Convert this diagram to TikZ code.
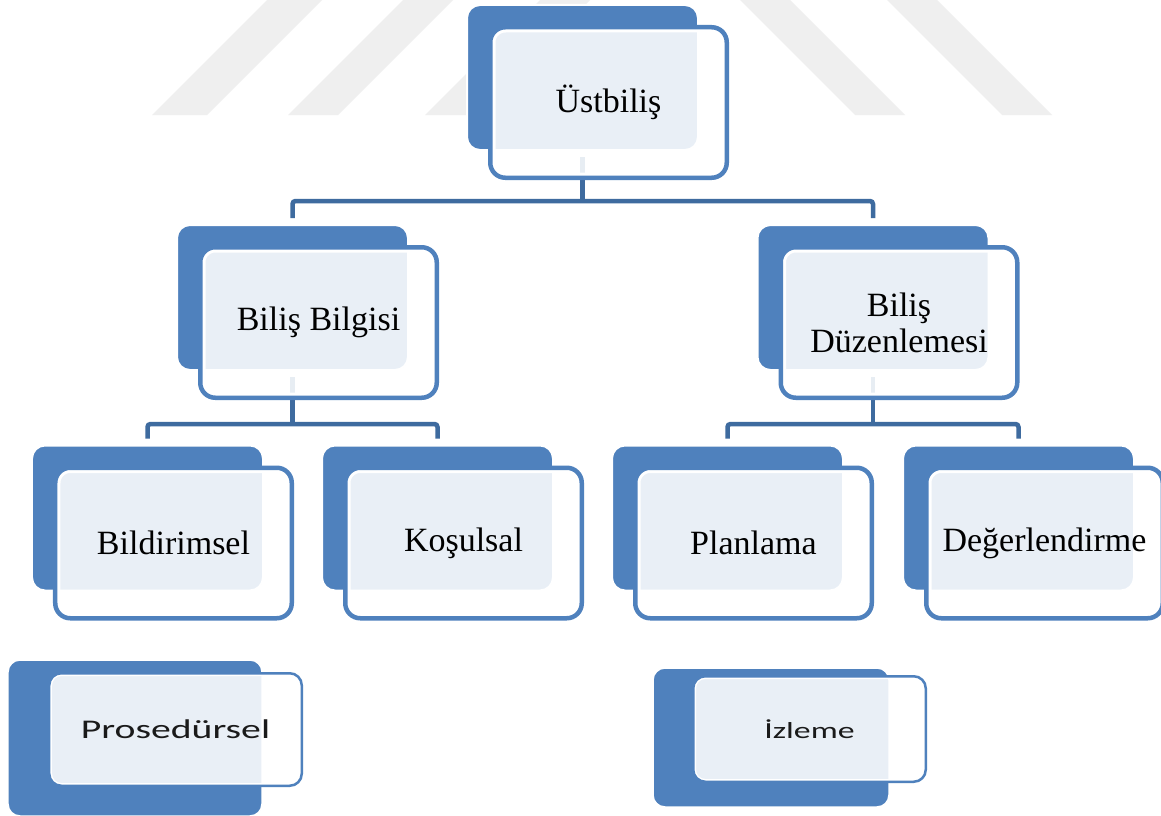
\documentclass[tikz,border=0pt]{standalone}
\usepackage{fontspec}
\setmainfont{Liberation Serif}
\newfontfamily\calib{Carlito}
\usetikzlibrary{calc}

\definecolor{boxblue}{HTML}{4F81BD}
\definecolor{linkblue}{HTML}{3E6B9F}
\definecolor{stripe}{HTML}{EFEFEF}
\definecolor{labelgray}{HTML}{1A1A1A}

\tikzset{
  backbox/.style={rectangle, rounded corners=13bp, fill=boxblue, draw=white,
    line width=2bp, inner sep=0pt, minimum width=231bp, minimum height=145bp},
  frontbox/.style={rectangle, rounded corners=15bp, fill=white, fill opacity=0.88,
    text opacity=1, draw=boxblue, line width=4.5bp, inner sep=0pt,
    minimum width=236.5bp, minimum height=150.5bp, align=center,
    font=\fontsize{34bp}{36bp}\selectfont,
    path picture={\draw[white, line width=10.5bp, rounded corners=15bp]
      (path picture bounding box.south west) rectangle (path picture bounding box.north east);}},
  smallback/.style={rectangle, rounded corners=12bp, fill=boxblue, draw=white,
    line width=1.5bp, inner sep=0pt},
  smallfront/.style={rectangle, rounded corners=12bp, fill=white, fill opacity=0.88,
    text opacity=1, draw=boxblue, line width=2.5bp, inner sep=0pt, text=labelgray,
    path picture={\draw[white, line width=5.5bp, rounded corners=12bp]
      (path picture bounding box.south west) rectangle (path picture bounding box.north east);}},
  link/.style={draw=linkblue, line width=4.5bp, rounded corners=3bp},
}

\begin{document}
\begin{tikzpicture}[x=1bp, y=-1bp]
\useasboundingbox (0,0) rectangle (1161,816);
\clip (0,0) rectangle (1161,816);
\fill[white] (0,0) rectangle (1161,816);

% faint diagonal stripes in the background
\fill[stripe] (152,115) -- (207,115) -- (322,0) -- (267,0) -- cycle;
\fill[stripe] (288,115) -- (338,115) -- (453,0) -- (403,0) -- cycle;
\fill[stripe] (425,115) -- (475,115) -- (590,0) -- (540,0) -- cycle;
\fill[stripe] (740,0) -- (790,0) -- (905,115) -- (855,115) -- cycle;
\fill[stripe] (887,0) -- (937,0) -- (1052,115) -- (1002,115) -- cycle;

% back plates
\node[backbox] (ustB) at (582.5,77.5) {};
\node[backbox] (bbB) at (292.5,297.5) {};
\node[backbox] (bdB) at (873,297.5) {};
\node[backbox] (bilB) at (147.5,518) {};
\node[backbox] (kosB) at (437.5,518) {};
\node[backbox] (plaB) at (727.5,518) {};
\node[backbox] (degB) at (1018.5,518) {};

% tree connectors
\draw[link] ($(ustB.south)+(0,6)$) -- ++(0,44) coordinate (j1);
\draw[link] ($(bbB.north)+(0,-6)$) |- (j1) -| ($(bdB.north)+(0,-6)$);
\draw[link] ($(bbB.south)+(0,6)$) -- ++(0,47) coordinate (j2);
\draw[link] ($(bilB.north)+(0,-6)$) |- (j2) -| ($(kosB.north)+(0,-6)$);
\draw[link] ($(bdB.south)+(0,6)$) -- ++(0,47) coordinate (j3);
\draw[link] ($(plaB.north)+(0,-6)$) |- (j3) -| ($(degB.north)+(0,-6)$);

% front cards with labels
\node[frontbox] (ust) at (608.5,102.5) {Üstbiliş};
\node[frontbox] (bb) at (318.5,322.5) {Biliş Bilgisi};
\node[frontbox] (bd) at (899,322.5) {Biliş\\Düzenlemesi};
\node[frontbox] (bil) at (173.5,543) {Bildirimsel};
\node[frontbox] (kos) at (463.5,543) {Koşulsal};
\node[frontbox] (pla) at (753.5,543) {Planlama};
\node[frontbox] (deg) at (1044.5,543) {Değerlendirme};

% separate small cards
\node[smallback, minimum width=254bp, minimum height=156bp] (proB) at (135,738) {};
\node[smallfront, minimum width=252.5bp, minimum height=112.5bp] (pro) at (175.5,729.5)
  {\calib\fontsize{27bp}{30bp}\selectfont\scalebox{1.47}[1]{Prosedürsel}};
\node[smallback, minimum width=236bp, minimum height=139bp] (izlB) at (771,737.5) {};
\node[smallfront, minimum width=232.5bp, minimum height=105.5bp] (izl) at (809.5,729)
  {\calib\fontsize{23bp}{26bp}\selectfont\scalebox{1.47}[1]{İzleme}};
\end{tikzpicture}
\end{document}
